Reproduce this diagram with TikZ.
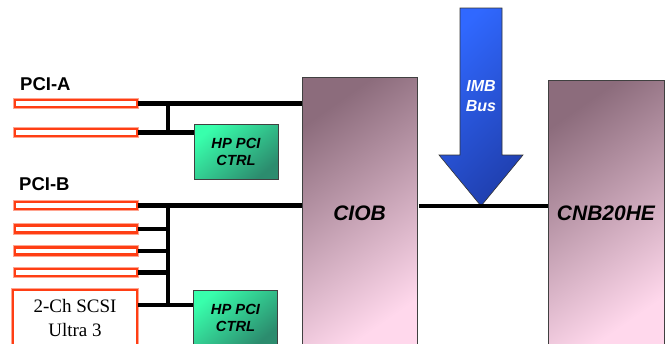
\documentclass[tikz,border=0pt]{standalone}
\usepackage{fontspec}
\setmainfont{Liberation Sans}
\newfontfamily\serifface{Liberation Serif}
\usepackage{tikz}
\usetikzlibrary{positioning}

\definecolor{slotred}{RGB}{255,62,20}
\definecolor{slotglow}{RGB}{255,165,145}
\definecolor{chipdark}{RGB}{140,108,124}
\definecolor{chiplight}{RGB}{255,216,236}
\definecolor{ctrllight}{RGB}{56,255,172}
\definecolor{ctrldark}{RGB}{44,140,110}
\definecolor{buslight}{RGB}{48,104,255}
\definecolor{busdark}{RGB}{32,64,176}

\begin{document}
\begin{tikzpicture}[
    x=1pt, y=-1pt,
    slot/.style={draw=slotred, line width=2.6pt, fill=white, minimum width=122pt,
                 minimum height=7pt, inner sep=0pt,
                 preaction={draw=slotglow, line width=4.2pt}},
    scsi/.style={slot, minimum width=123.8pt, minimum height=56pt, align=center,
                 font=\serifface\fontsize{19}{23.6}\selectfont},
    ctrl/.style={draw=black!75, line width=0.6pt, top color=ctrllight, bottom color=ctrldark,
                 shading angle=40, minimum width=84pt, minimum height=55pt, align=center,
                 inner sep=0pt, font=\bfseries\itshape\fontsize{14.7}{17}\selectfont},
    chip/.style={draw=black!75, line width=0.6pt, top color=chipdark, bottom color=chiplight,
                 shading angle=35, align=center, inner sep=0pt,
                 font=\bfseries\itshape\fontsize{21}{24}\selectfont},
    bus/.style={line width=4.5pt, black},
    pcilabel/.style={font=\bfseries\fontsize{18.5}{20}\selectfont, inner sep=0pt, anchor=base west}
]
\clip (0,0) rectangle (666,343);

% PCI-A segment
\node[pcilabel] (pcia) at (20,90) {PCI-A};
\node[slot] (slotA1) at (76,103.5) {};
\node[slot] (slotA2) at (76,132.5) {};
\node[ctrl] (ctrlA) at (236,151.5) {HP PCI\\CTRL};

% PCI-B segment
\node[pcilabel] (pcib) at (19,190) {PCI-B};
\node[slot] (slotB1) at (76,205.5) {};
\node[slot] (slotB2) at (76,229) {};
\node[slot] (slotB3) at (76,251) {};
\node[slot] (slotB4) at (76,272.5) {};
\node[scsi] (scsi) at (75,318) {2-Ch SCSI\\Ultra 3};
\node[ctrl] (ctrlB) at (235.5,317.5) {HP PCI\\CTRL};

% Chips
\node[chip, minimum width=115pt, minimum height=272pt] (ciob) at (359.5,213) {CIOB};
\node[chip, minimum width=116pt, minimum height=266pt] (cnb) at (606,213) {CNB20HE};

% IMB bus arrow
\coordinate (busA) at (168,0);
\coordinate (busB) at (168,0);
\coordinate (imbtip) at (481,206);
\path[draw=black!80, line width=0.6pt, top color=buslight, bottom color=busdark, shading angle=45]
    (460,8) -- (502,8) -- (502,155) -- (523,155) -- (imbtip) -- (439,155) -- (460,155) -- cycle;
\node[white, align=center, font=\bfseries\itshape\fontsize{16}{20.6}\selectfont] (imbtext) at (481,96) {IMB\\Bus};

% Connections
\draw[bus] (slotA1.east) -- (slotA1.east -| ciob.west);
\draw[bus] (slotA2.east) -- (slotA2.east -| ctrlA.west);
\draw[bus] (slotA1.east -| busA) -- (slotA2.east -| busA);

\draw[bus] (slotB1.east) -- (slotB1.east -| ciob.west);
\foreach \s in {slotB2,slotB3,slotB4}
  \draw[bus] (\s.east) -- (\s.east -| busB);
\draw[bus] ([yshift=13pt]scsi.east) -- ([yshift=13pt]scsi.east -| ctrlB.west);
\draw[bus] (slotB1.east -| busB) -- ([yshift=13pt]scsi.east -| busB);

\draw[bus] ([xshift=1.5pt]ciob.east |- imbtip) -- (cnb.west |- imbtip);

\end{tikzpicture}
\end{document}
